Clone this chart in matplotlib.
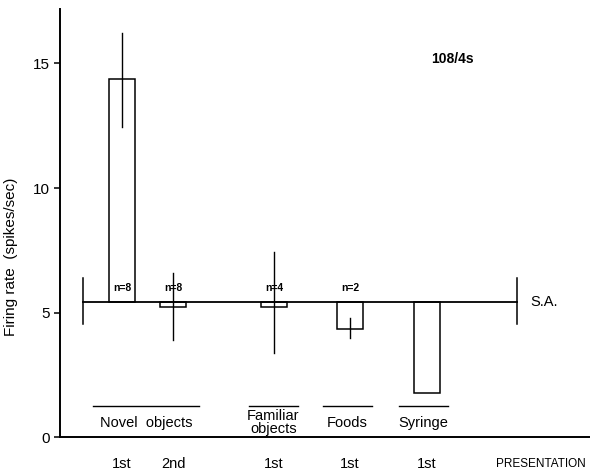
import matplotlib.pyplot as plt
from matplotlib.transforms import blended_transform_factory

plt.rcParams["font.family"] = ["Liberation Sans", "DejaVu Sans"]

# data (firing rate, spikes/sec)
baseline = 5.42  # spontaneous activity (S.A.)
presentation = ["1st", "2nd", "1st", "1st", "1st"]
means = [14.38, 5.22, 5.22, 4.34, 1.77]
err_hi = [16.22, 6.59, 7.43, 4.78, None]
err_lo = [12.45, 3.90, 3.37, 3.98, None]
n_labels = ["n=8", "n=8", "n=4", "n=2", ""]
groups = ["Novel  objects", "Familiar\nobjects", "Foods", "Syringe"]
cell_label = "108/4s"

# layout (x in pixel-like units from the y axis)
xpos = [62, 113, 214, 290, 367]
bar_w = 26
group_span = [(33, 139), (189, 238), (263, 312), (339, 388)]

fig = plt.figure(figsize=(5.9, 4.73), dpi=100)
ax = fig.add_axes([60 / 590, 36 / 473, 530 / 590, 428 / 473])
ax.set_xlim(0, 530)
ax.set_ylim(0, 428 / 24.9)

for x, m in zip(xpos, means):
    ax.bar(x, m - baseline, bottom=baseline, width=bar_w,
           facecolor="white", edgecolor="black", linewidth=1.1, zorder=2)
for x, hi, lo in zip(xpos, err_hi, err_lo):
    if hi is not None:
        ax.plot([x, x], [lo, hi], color="black", lw=1.0, zorder=3)
for x, lab in zip(xpos, n_labels):
    ax.text(x, baseline + 0.35, lab, ha="center", va="bottom",
            fontsize=7.5, fontweight="bold", zorder=4)

# S.A. line with end markers
ax.plot([23, 457], [baseline, baseline], color="black", lw=1.3, zorder=3)
for xe in (23, 457):
    ax.plot([xe, xe], [baseline - 0.9, baseline + 0.95], color="black", lw=1.1)
ax.text(470, baseline, "S.A.", ha="left", va="center", fontsize=10.5)

# group underlines and labels
for (a, b), g in zip(group_span, groups):
    ax.plot([a, b], [1.25, 1.25], color="black", lw=1.0)
    ax.text((a + b) / 2, 0.58, g, ha="center", va="center",
            fontsize=10.5, linespacing=0.85)

trans = blended_transform_factory(ax.transData, ax.transAxes)
for x, p in zip(xpos, presentation):
    ax.text(x, -0.064, p, transform=trans, ha="center", va="center",
            fontsize=10.5)
ax.text(481, -0.064, "PRESENTATION", transform=trans, ha="center",
        va="center", fontsize=8.5, clip_on=False)

ax.text(392, 15.2, cell_label, ha="center", va="center", fontsize=10,
        fontweight="bold")

ax.spines["top"].set_visible(False)
ax.spines["right"].set_visible(False)
ax.spines["left"].set_linewidth(1.4)
ax.spines["bottom"].set_linewidth(1.4)
ax.set_xticks([])
ax.set_yticks([0, 5, 10, 15])
ax.tick_params(axis="y", direction="out", length=4, width=1.1, labelsize=11)
ax.set_ylabel("Firing rate  (spikes/sec)", fontsize=11)
ax.yaxis.set_label_coords(-0.079, 0.42)

fig.savefig("out.png", dpi=100)
